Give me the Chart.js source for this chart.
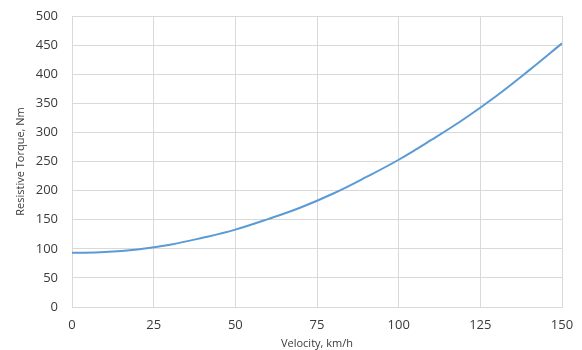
<!DOCTYPE html>
<html>
<head>
<meta charset="utf-8">
<script src="https://cdn.jsdelivr.net/npm/chart.js@4"></script>
<style>
  html, body { margin: 0; padding: 0; background: #fff; }
  #wrap { width: 582px; height: 350px; }
</style>
</head>
<body>
<div id="wrap"><canvas id="chart"></canvas></div>
<script>
// values
const velocity = [0, 10, 20, 30, 40, 50, 60, 70, 80, 90, 100, 110, 120, 130, 140, 150];
const torque = [93, 94.5, 99, 107, 119, 133, 151, 171, 195, 223, 253, 287, 323, 363, 407, 453];
const xTicks = [0, 25, 50, 75, 100, 125, 150];
const yTicks = [0, 50, 100, 150, 200, 250, 300, 350, 400, 450, 500];

const points = velocity.map((v, i) => ({ x: v, y: torque[i] }));

const gridColor = '#d9d9d9';
const textColor = '#3a3a3a';

new Chart(document.getElementById('chart'), {
  type: 'scatter',
  data: {
    datasets: [{
      data: points,
      showLine: true,
      borderColor: '#5b9bd5',
      borderWidth: 2,
      pointRadius: 0,
      tension: 0.4,
      fill: false
    }]
  },
  options: {
    responsive: true,
    maintainAspectRatio: false,
    animation: false,
    layout: { padding: { top: 16, right: 20, left: 0, bottom: 0 } },
    plugins: { legend: { display: false }, tooltip: { enabled: false } },
    scales: {
      x: {
        type: 'linear',
        min: 0, max: 150,
        afterBuildTicks: s => { s.ticks = xTicks.map(v => ({ value: v })); },
        afterFit: s => { s.height = 43; s.paddingLeft = 0; s.paddingRight = 0; },
        grid: { color: gridColor, drawTicks: false },
        border: { color: gridColor },
        ticks: { padding: 10, color: textColor, font: { family: 'Open Sans', size: 13 } },
        title: { display: true, text: 'Velocity, km/h', color: textColor, font: { family: 'Open Sans', size: 11 }, padding: { top: 0, bottom: 0 } }
      },
      y: {
        min: 0, max: 500,
        afterBuildTicks: s => { s.ticks = yTicks.map(v => ({ value: v })); },
        afterFit: s => { s.width = 72; s.paddingTop = 0; s.paddingBottom = 0; },
        grid: { color: gridColor, drawTicks: false },
        border: { color: gridColor },
        ticks: { padding: 14, color: textColor, font: { family: 'Open Sans', size: 13 } },
        title: { display: true, text: 'Resistive Torque, Nm', color: textColor, font: { family: 'Open Sans', size: 11 }, padding: { top: 14, bottom: 0 } }
      }
    }
  }
});
</script>
</body>
</html>
